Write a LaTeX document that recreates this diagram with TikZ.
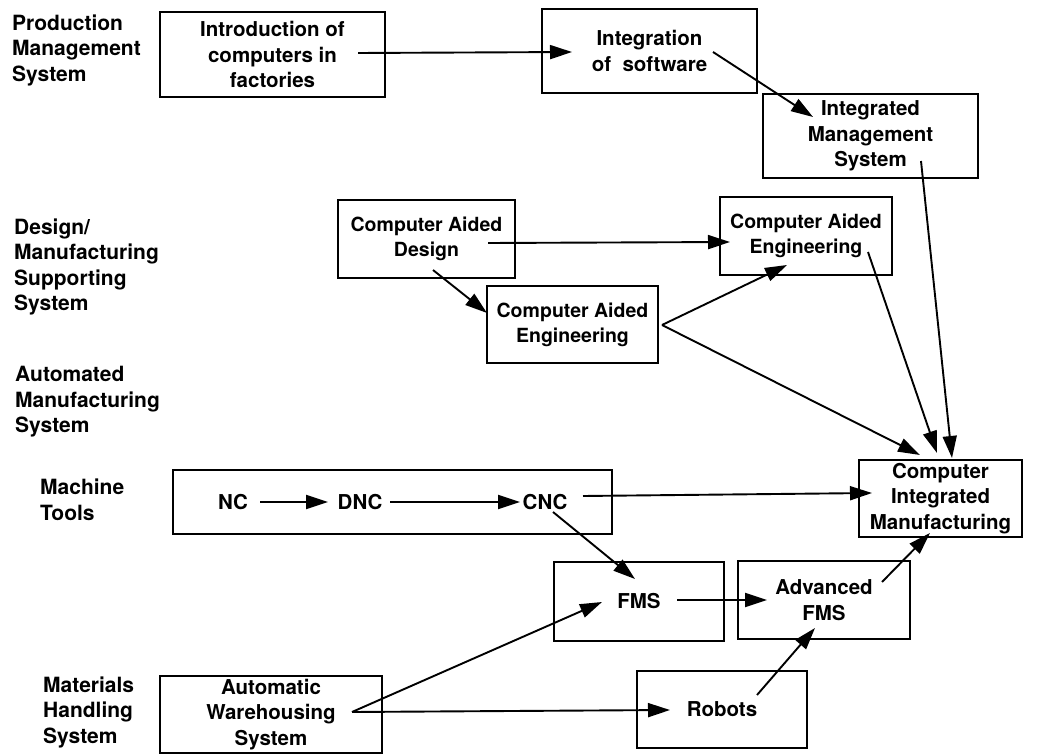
\documentclass[tikz,border=0pt]{standalone}
\usepackage{fontspec}
\setmainfont{TeX Gyre Heros}
\usetikzlibrary{arrows.meta}
\newcommand{\lblfont}{\fontsize{21}{25.5}\selectfont\bfseries}
\newcommand{\boxfont}{\fontsize{20.5}{25.5}\selectfont\bfseries}
\newcommand{\cafont}{\fontsize{19.5}{25}\selectfont\bfseries}
\begin{document}
\begin{tikzpicture}[x=1pt,y=-1pt,
  box/.style={draw, line width=2pt, inner sep=0pt, align=center, font=\boxfont},
  cabox/.style={box, font=\cafont},
  txt/.style={inner sep=0pt, font=\boxfont},
  lbl/.style={anchor=west, align=left, inner sep=0pt, font=\lblfont},
  arr/.style={line width=1.9pt, -{Triangle[length=22pt,width=14pt]}}]
\useasboundingbox (0,0) rectangle (1044,754);

% left labels
\node[lbl] (l1) at (12,50) {Production\\Management\\System};
\node[lbl] (l2) at (14,267) {Design/\\Manufacturing\\Supporting\\System};
\node[lbl] (l3) at (15,402) {Automated\\Manufacturing\\System};
\node[lbl] (l4) at (40,500) {Machine\\Tools};
\node[lbl] (l5) at (43,712) {Materials\\Handling\\System};

% boxes
\node[box, minimum width=225pt, minimum height=85pt] (intro) at (272.5,54.5) {Introduction of\\computers in\\factories};
\node[box, minimum width=215pt, minimum height=84pt] (integ) at (649.5,51) {Integration\\of~ software};
\node[box, minimum width=215pt, minimum height=84pt] (ims) at (870.5,136) {Integrated\\Management\\System};
\node[cabox, minimum width=177pt, minimum height=78pt] (cad) at (426.5,239) {Computer Aided\\Design};
\node[cabox, minimum width=172pt, minimum height=78pt] (cae2) at (806,236) {Computer Aided\\Engineering};
\node[cabox, minimum width=171pt, minimum height=77pt] (cae1) at (572.5,324.5) {Computer Aided\\Engineering};
\node[box, minimum width=163pt, minimum height=77pt] (cim) at (940.5,498.5) {Computer\\Integrated\\Manufacturing};
\node[box, minimum width=439pt, minimum height=64pt] (mt) at (392.5,502) {};
\node[txt] (nc) at (233,502) {NC};
\node[txt] (dnc) at (360,502) {DNC};
\node[txt] (cnc) at (545,502) {CNC};
\node[box, minimum width=170pt, minimum height=79pt] (fms) at (639,601.5) {FMS};
\node[box, minimum width=172pt, minimum height=78pt] (afms) at (824,600) {Advanced\\FMS};
\node[box, minimum width=170pt, minimum height=77pt] (robots) at (722,709.5) {Robots};
\node[box, minimum width=222pt, minimum height=77pt] (aws) at (271,714.5) {Automatic\\Warehousing\\System};

% connector end points
\coordinate (intro-o) at (358,53);  \coordinate (integ-i) at (572,52);
\coordinate (integ-o) at (713,52);  \coordinate (ims-i) at (813,117);
\coordinate (cad-o1) at (488,243);  \coordinate (cae2-i1) at (730,242);
\coordinate (cad-o2) at (433,270);  \coordinate (cae1-i) at (487,313);
\coordinate (cae1-o) at (662,325);  \coordinate (cae2-i2) at (787,265);
\coordinate (cim-i1) at (920,455);
\coordinate (cae2-o) at (868,252);  \coordinate (cim-i2) at (937,453);
\coordinate (ims-o) at (921,161);   \coordinate (cim-i3) at (952,458);
\coordinate (nc-o) at (260,502);    \coordinate (dnc-i) at (328,502);
\coordinate (dnc-o) at (390,502);   \coordinate (cnc-i) at (520,502);
\coordinate (cnc-o1) at (583,496);  \coordinate (cim-i4) at (872,493);
\coordinate (cnc-o2) at (553,512);  \coordinate (fms-i1) at (635,579);
\coordinate (fms-o) at (677,600);   \coordinate (afms-i1) at (767,600);
\coordinate (afms-o) at (882,582);  \coordinate (cim-i5) at (930,533);
\coordinate (robots-o) at (757,695); \coordinate (afms-i2) at (815,628);
\coordinate (aws-o) at (352,712);   \coordinate (fms-i2) at (602,602);
\coordinate (robots-i) at (670,710);

% connectors
\draw[arr] (intro-o) -- (integ-i);
\draw[arr] (integ-o) -- (ims-i);
\draw[arr] (cad-o1) -- (cae2-i1);
\draw[arr] (cad-o2) -- (cae1-i);
\draw[arr] (cae1-o) -- (cae2-i2);
\draw[arr] (cae1-o) -- (cim-i1);
\draw[arr] (cae2-o) -- (cim-i2);
\draw[arr] (ims-o) -- (cim-i3);
\draw[arr] (nc-o) -- (dnc-i);
\draw[arr] (dnc-o) -- (cnc-i);
\draw[arr] (cnc-o1) -- (cim-i4);
\draw[arr] (cnc-o2) -- (fms-i1);
\draw[arr] (fms-o) -- (afms-i1);
\draw[arr] (afms-o) -- (cim-i5);
\draw[arr] (robots-o) -- (afms-i2);
\draw[arr] (aws-o) -- (fms-i2);
\draw[arr] (aws-o) -- (robots-i);
\end{tikzpicture}
\end{document}
